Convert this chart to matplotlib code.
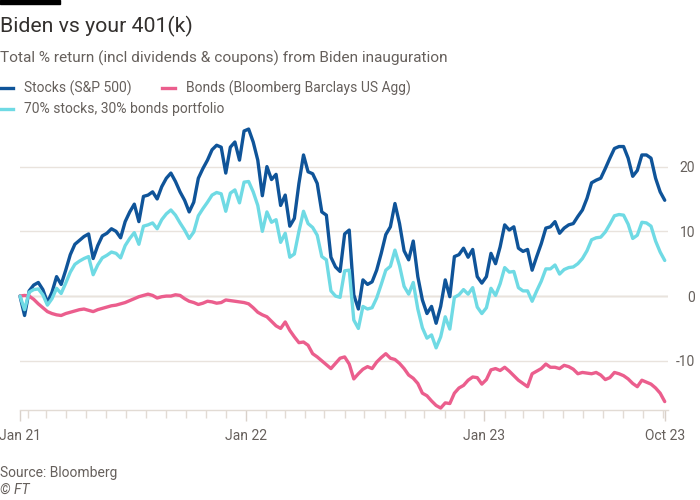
import pandas as pd
import matplotlib.pyplot as plt
import matplotlib.dates as mdates
from matplotlib.lines import Line2D
from matplotlib.patches import Rectangle
from matplotlib.ticker import FixedLocator

plt.rcParams["font.family"] = ["Roboto", "DejaVu Sans"]

# -----------------------------
# Data (weekly, % total return since 20 Jan 2021)
# -----------------------------
START = "2021-01-20"

stocks = [
    0.0, -3.0, 0.8, 1.7, 2.1, 1.0, -1.0, 0.6, 3.0, 1.8,
    4.0, 6.4, 8.0, 8.6, 9.2, 9.6, 5.8, 7.8, 9.3, 9.7,
    10.4, 10.0, 9.0, 11.5, 13.0, 14.2, 11.5, 15.4, 15.6, 16.1,
    15.0, 16.9, 18.2, 19.0, 17.7, 16.1, 14.8, 13.0, 14.5, 18.2,
    19.7, 21.0, 22.6, 23.3, 23.0, 19.0, 23.0, 23.8, 21.0, 25.5,
    25.8, 23.8, 21.0, 15.5, 20.0, 18.0, 18.8, 14.0, 15.6, 10.8,
    12.0, 17.4, 21.8, 19.2, 18.9, 17.4, 13.0, 12.5, 6.0, 4.5,
    3.8, 9.6, 10.2, 0.2, -2.0, 2.5, 1.8, 2.2, 4.0, 6.6,
    9.5, 10.7, 14.3, 11.2, 7.0, 5.6, 8.5, 3.0, -0.6, -2.7,
    -1.6, -4.2, -1.6, 2.5, -0.1, 6.1, 6.4, 7.4, 6.0, 7.2,
    3.0, 2.0, 3.0, 6.6, 5.0, 7.6, 11.0, 10.2, 10.7, 7.4,
    6.9, 7.2, 4.0, 6.1, 8.1, 10.5, 10.7, 11.5, 9.7, 10.5,
    11.0, 11.2, 12.3, 13.3, 15.1, 17.5, 17.9, 18.2, 19.7, 21.3,
    22.8, 23.1, 23.1, 21.3, 18.5, 19.4, 21.8, 21.8, 21.3, 18.2,
    16.1, 14.8,
]

bonds = [
    0.0, 0.1, 0.0, -0.5, -1.2, -1.8, -2.4, -2.7, -2.9, -3.0,
    -2.7, -2.5, -2.3, -2.1, -2.0, -2.2, -2.4, -2.1, -1.9, -1.7,
    -1.5, -1.4, -1.2, -1.0, -0.7, -0.4, -0.1, 0.1, 0.3, 0.1,
    -0.3, -0.1, 0.0, 0.0, 0.2, 0.1, -0.4, -0.8, -1.0, -1.3,
    -1.1, -0.8, -0.9, -1.1, -1.0, -0.6, -0.7, -0.8, -0.9, -1.0,
    -1.2, -1.8, -2.5, -2.9, -3.2, -3.9, -4.6, -5.0, -4.0, -5.3,
    -6.3, -7.2, -7.1, -7.6, -8.9, -9.4, -10.0, -10.6, -11.2, -10.4,
    -9.6, -9.4, -10.5, -12.8, -12.0, -11.3, -10.9, -11.2, -10.2, -9.5,
    -8.9, -9.6, -9.8, -10.4, -11.2, -12.2, -12.7, -13.5, -15.0, -15.4,
    -16.2, -16.9, -17.3, -16.5, -16.6, -15.0, -14.2, -13.8, -13.0, -12.5,
    -12.6, -13.6, -12.9, -11.4, -11.2, -11.5, -11.0, -11.6, -12.3, -13.0,
    -13.5, -14.0, -12.0, -11.6, -11.2, -10.5, -11.0, -11.0, -11.2, -10.7,
    -10.9, -11.3, -12.0, -11.8, -11.9, -12.0, -11.8, -12.2, -12.9, -12.6,
    -11.8, -12.0, -12.3, -12.8, -13.5, -14.0, -13.0, -13.3, -13.6, -14.2,
    -15.0, -16.3,
]

mix = [
    0.0, -2.1, 0.6, 1.0, 1.1, 0.2, -1.4, -0.4, 1.2, 0.4,
    2.0, 3.7, 4.9, 5.4, 5.8, 6.1, 3.3, 4.8, 5.9, 6.3,
    6.8, 6.6, 5.9, 7.8, 8.9, 9.8, 8.0, 10.8, 11.0, 11.3,
    10.4, 11.8, 12.7, 13.3, 12.5, 11.3, 10.2, 8.9, 9.9, 12.4,
    13.5, 14.5, 15.6, 16.0, 15.8, 13.1, 15.9, 16.4, 14.4, 17.6,
    17.7, 16.1, 14.0, 10.0, 13.0, 11.4, 11.8, 8.3, 9.7, 6.0,
    6.5, 10.0, 13.1, 11.2, 10.6, 9.4, 6.1, 5.6, 0.8, 0.0,
    -0.2, 3.9, 4.0, -3.7, -5.0, -1.6, -2.0, -1.8, -0.3, 1.8,
    4.0, 4.6, 7.1, 4.7, 1.5, 0.3, 2.1, -2.0, -4.9, -6.5,
    -6.0, -8.0, -6.3, -3.2, -5.1, -0.2, 0.2, 1.0, 0.3, 1.3,
    -1.7, -2.7, -1.8, 1.2, 0.1, 1.9, 4.4, 3.7, 3.8, 1.3,
    0.8, 0.8, -0.8, 0.8, 2.3, 4.2, 4.2, 4.8, 3.4, 4.1,
    4.4, 4.5, 5.0, 5.8, 7.0, 8.7, 9.0, 9.1, 9.9, 11.1,
    12.4, 12.6, 12.5, 11.1, 8.9, 9.4, 11.4, 11.3, 10.8, 8.5,
    6.8, 5.5,
]

SERIES_NAMES = ["Stocks (S&P 500)", "Bonds (Bloomberg Barclays US Agg)",
                "70% stocks, 30% bonds portfolio"]
SERIES_COLORS = ["#0f5499", "#eb5e8d", "#6fdae4"]

Y_TICKS = [-10, 0, 10, 20]
X_LABEL_DATES = ["2021-01-20", "2022-01-01", "2023-01-01", "2023-10-04"]
X_LABELS = ["Jan 21", "Jan 22", "Jan 23", "Oct 23"]

TEXT_DARK = "#33302e"
TEXT_GREY = "#66605c"
GRID = "#e9e3dd"
ZERO = "#cfc7c0"

dates = pd.date_range(START, periods=len(stocks), freq="7D")

fig = plt.figure(figsize=(7, 5), dpi=100)
ax = fig.add_axes([20 / 700, 1 - 410 / 500, 648 / 700, 290 / 500])

for vals, color in [(stocks, SERIES_COLORS[0]), (bonds, SERIES_COLORS[1]), (mix, SERIES_COLORS[2])]:
    ax.plot(dates, vals, color=color, lw=2.4, clip_on=False,
            solid_joinstyle="round", solid_capstyle="round", zorder=3)

ax.set_xlim(pd.Timestamp("2021-01-20"), pd.Timestamp("2023-10-09"))
ax.set_ylim(-17.6, 27.2)

# y axis on the right, gridlines
ax.yaxis.tick_right()
ax.set_yticks(Y_TICKS)
ax.set_yticklabels([str(t) for t in Y_TICKS])
ax.tick_params(axis="y", length=0, pad=19.5, labelsize=10, labelcolor=TEXT_GREY)
for lab in ax.get_yticklabels():
    lab.set_horizontalalignment("right")
ax.yaxis.grid(True, color=GRID, lw=1, zorder=0)
ax.axhline(0, color=ZERO, lw=1, zorder=1)

# x axis
ax.xaxis.set_major_locator(FixedLocator(mdates.date2num(pd.to_datetime(X_LABEL_DATES))))
ax.set_xticklabels(X_LABELS)
ax.xaxis.set_minor_locator(mdates.MonthLocator())
ax.tick_params(axis="x", which="major", length=8, width=1, color="#d9d1ca",
               pad=6, labelsize=10, labelcolor=TEXT_GREY)
ax.tick_params(axis="x", which="minor", length=6, width=1, color="#e2dbd4")

for side in ["top", "left", "right"]:
    ax.spines[side].set_visible(False)
ax.spines["bottom"].set_color("#e2dbd4")
ax.spines["bottom"].set_linewidth(1)

# title block
fig.add_artist(Rectangle((0, 1 - 4 / 500), 60 / 700, 4 / 500, color="black",
                         transform=fig.transFigure))
fig.text(0, 1 - 32 / 500, "Biden vs your 401(k)", fontsize=15.3, color=TEXT_DARK, va="baseline")
fig.text(0, 1 - 62.5 / 500, "Total % return (incl dividends & coupons) from Biden inauguration",
         fontsize=11.1, color=TEXT_GREY, va="baseline")

# legend
legend_items = [(0, 88, 0), (162, 88, 1), (0, 109, 2)]
for x0, y0, k in legend_items:
    fig.add_artist(Line2D([x0 / 700, (x0 + 13) / 700], [1 - y0 / 500, 1 - y0 / 500],
                          color=SERIES_COLORS[k], lw=2.4, transform=fig.transFigure))
    fig.text((x0 + 24) / 700, 1 - y0 / 500, SERIES_NAMES[k], fontsize=10,
             color=TEXT_GREY, va="center")

# footer
fig.text(0, 1 - 477 / 500, "Source: Bloomberg", fontsize=10, color=TEXT_GREY, va="baseline")
fig.text(0, 1 - 494 / 500, "© FT", fontsize=10, color=TEXT_GREY, style="italic", va="baseline")

fig.savefig("out.png", dpi=100, facecolor="white")
